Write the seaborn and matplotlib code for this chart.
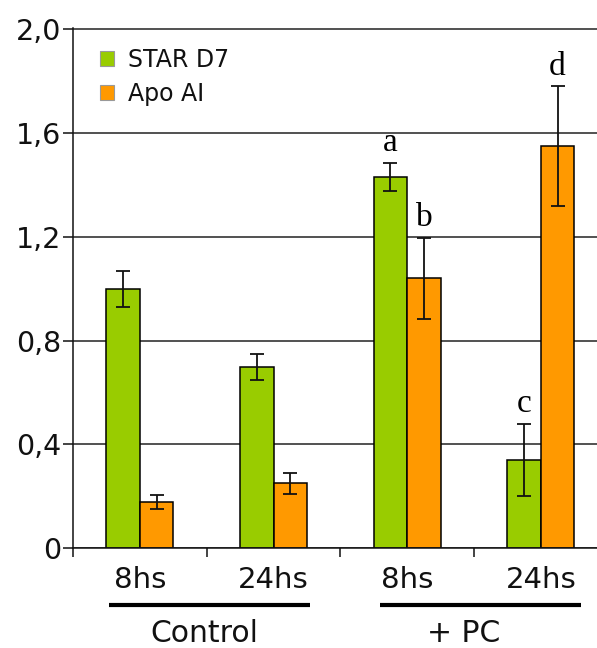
import numpy as np
import pandas as pd
import matplotlib
matplotlib.use("Agg")
import matplotlib.pyplot as plt
import matplotlib.transforms as mtransforms
from matplotlib.patches import Patch
import seaborn as sns

# ---- data ----
categories = ["Control 8hs", "Control 24hs", "+PC 8hs", "+PC 24hs"]
tick_labels = ["8hs", "24hs", "8hs", "24hs"]
series_names = ["STAR D7", "Apo AI"]
star_values = [1.00, 0.70, 1.43, 0.34]
star_errors = [0.07, 0.05, 0.055, 0.14]
apo_values = [0.18, 0.25, 1.04, 1.55]
apo_errors = [0.027, 0.04, 0.155, 0.23]
star_letters = ["", "", "a", "c"]
apo_letters = ["", "", "b", "d"]
y_ticks = [0, 0.4, 0.8, 1.2, 1.6, 2.0]
y_tick_labels = ["0", "0,4", "0,8", "1,2", "1,6", "2,0"]
groups = ["Control", "+ PC"]

colors = {"STAR D7": "#99CC00", "Apo AI": "#FF9900"}

df = pd.DataFrame({
    "category": categories * 2,
    "series": [series_names[0]] * 4 + [series_names[1]] * 4,
    "value": star_values + apo_values,
})

sns.set_theme(style="white")
plt.rcParams["font.family"] = ["DejaVu Sans"]

fig = plt.figure(figsize=(5.97, 6.48), dpi=100)
ax = fig.add_axes([73 / 597, 1 - 548.3 / 648, 1 - 73 / 597, 520 / 648])

sns.barplot(data=df, x="category", y="value", hue="series", order=categories,
            hue_order=series_names, palette=colors, width=0.5, ax=ax,
            edgecolor="black", linewidth=1.1, legend=False, errorbar=None,
            saturation=1)

errs = [star_errors, apo_errors]
letters = [star_letters, apo_letters]
for cont, e, lt in zip(ax.containers, errs, letters):
    xs = [p.get_x() + p.get_width() / 2 for p in cont]
    hs = [p.get_height() for p in cont]
    ax.errorbar(xs, hs, yerr=e, fmt="none", ecolor="#111111", elinewidth=1.3,
                capsize=4.7, capthick=1.3, zorder=5)
    for x, h, err, l in zip(xs, hs, e, lt):
        if l:
            ax.text(x, h + err + 0.045, l, ha="center", va="baseline",
                    fontsize=24, family=["Liberation Serif", "DejaVu Serif"],
                    color="black")

ax.set_xlim(-0.5, 3.42)
ax.set_ylim(0, 2.003)
ax.set_yticks(y_ticks)
ax.set_yticklabels(y_tick_labels)
ax.yaxis.grid(True, color="#222222", linewidth=1.1)
ax.set_axisbelow(True)

n = len(categories)
ax.set_xticks(np.arange(n) - 0.5)
ax.set_xticklabels([""] * n)
ax.set_xticks(np.arange(n), minor=True)
ax.set_xticklabels(tick_labels, minor=True)
ax.tick_params(axis="x", which="major", length=6.5, width=1.1, direction="out",
               color="#111111", bottom=True)
ax.tick_params(axis="x", which="minor", length=0, pad=12.5, labelsize=21,
               labelcolor="#111111")
ax.tick_params(axis="y", length=7, width=1.1, direction="out", color="#111111",
               left=True, pad=1.5, labelsize=20.5, labelcolor="#111111")
ax.set_xlabel("")
ax.set_ylabel("")

for s in ["top", "right"]:
    ax.spines[s].set_visible(False)
for s in ["left", "bottom"]:
    ax.spines[s].set_color("#111111")
    ax.spines[s].set_linewidth(1.1)

# group underlines and labels
trans = mtransforms.blended_transform_factory(ax.transData, fig.transFigure)
group_centers = [0.52, 2.55]
label_centers = [0.48, 2.42]
half = 0.75
for gc, lc, g in zip(group_centers, label_centers, groups):
    ax.plot([gc - half, gc + half], [1 - 605 / 648] * 2, transform=trans,
            color="black", linewidth=3, clip_on=False, solid_capstyle="butt")
    ax.text(lc, 0.0, g, transform=trans, ha="center", va="bottom",
            fontsize=21.5, color="#111111")

handles = [Patch(facecolor=colors[s], edgecolor="#999999", linewidth=0.8)
           for s in series_names]
ax.legend(handles, series_names, loc="upper left",
          bbox_to_anchor=(0.0515, 0.963), frameon=False, borderaxespad=0,
          borderpad=0, fontsize=17, handlelength=0.6, handleheight=0.6,
          handletextpad=0.6, labelspacing=0.45, labelcolor="#111111")

fig.savefig("out.png", dpi=100)
